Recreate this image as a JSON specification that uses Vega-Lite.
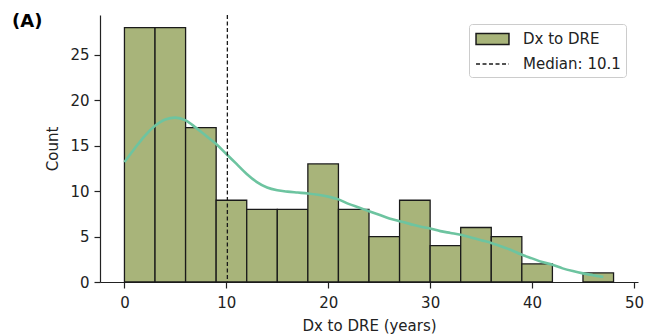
{
  "$schema": "https://vega.github.io/schema/vega-lite/v6.json",
  "width": 538,
  "height": 267,
  "autosize": {"type": "none"},
  "padding": {"left": 100, "top": 15, "right": 10, "bottom": 54},
  "title": {"text": "(A)", "anchor": "start", "frame": "group", "dx": -88, "dy": 17, "offset": 0, "fontSize": 18, "fontWeight": "bold", "font": "DejaVu Sans", "color": "black"},
  "config": {
    "view": {"stroke": null},
    "font": "DejaVu Sans",
    "axis": {
      "grid": false,
      "domainColor": "#222",
      "domainWidth": 1.2,
      "tickColor": "#222",
      "tickWidth": 1.2,
      "tickSize": 6,
      "labelFont": "DejaVu Sans",
      "labelFontSize": 15,
      "labelColor": "#222",
      "labelPadding": 5,
      "titleFont": "DejaVu Sans",
      "titleFontSize": 15,
      "titleFontWeight": "normal",
      "titleColor": "#222"
    },
    "legend": {
      "orient": "none",
      "legendX": 369,
      "legendY": 9,
      "direction": "vertical",
      "fillColor": "white",
      "strokeColor": "#cccccc",
      "cornerRadius": 3,
      "padding": 5,
      "symbolSize": 324,
      "symbolOffset": 8.5,
      "symbolStrokeWidth": 1.5,
      "labelFont": "DejaVu Sans",
      "labelFontSize": 15,
      "labelColor": "#222",
      "labelOffset": 20.5,
      "rowPadding": 6
    }
  },
  "datasets": {
    "bins": [
      {"start": 0, "end": 3, "count": 28, "series": "Dx to DRE"},
      {"start": 3, "end": 6, "count": 28, "series": "Dx to DRE"},
      {"start": 6, "end": 9, "count": 17, "series": "Dx to DRE"},
      {"start": 9, "end": 12, "count": 9, "series": "Dx to DRE"},
      {"start": 12, "end": 15, "count": 8, "series": "Dx to DRE"},
      {"start": 15, "end": 18, "count": 8, "series": "Dx to DRE"},
      {"start": 18, "end": 21, "count": 13, "series": "Dx to DRE"},
      {"start": 21, "end": 24, "count": 8, "series": "Dx to DRE"},
      {"start": 24, "end": 27, "count": 5, "series": "Dx to DRE"},
      {"start": 27, "end": 30, "count": 9, "series": "Dx to DRE"},
      {"start": 30, "end": 33, "count": 4, "series": "Dx to DRE"},
      {"start": 33, "end": 36, "count": 6, "series": "Dx to DRE"},
      {"start": 36, "end": 39, "count": 5, "series": "Dx to DRE"},
      {"start": 39, "end": 42, "count": 2, "series": "Dx to DRE"},
      {"start": 45, "end": 48, "count": 1, "series": "Dx to DRE"}
    ],
    "kde": [
      {"x": 0, "y": 13.2}, {"x": 1, "y": 14.7}, {"x": 2, "y": 16.1}, {"x": 3, "y": 17.2},
      {"x": 4, "y": 17.9}, {"x": 5, "y": 18.1}, {"x": 6, "y": 17.8}, {"x": 7, "y": 17.0},
      {"x": 8, "y": 16.1}, {"x": 9, "y": 15.2}, {"x": 10, "y": 14.1}, {"x": 11, "y": 13.0},
      {"x": 12, "y": 11.9}, {"x": 13, "y": 11.0}, {"x": 14, "y": 10.4}, {"x": 15, "y": 10.1},
      {"x": 16, "y": 9.95}, {"x": 17, "y": 9.85}, {"x": 18, "y": 9.75}, {"x": 19, "y": 9.6},
      {"x": 20, "y": 9.4}, {"x": 21, "y": 9.1}, {"x": 22, "y": 8.6}, {"x": 23, "y": 8.2},
      {"x": 24, "y": 7.8}, {"x": 25, "y": 7.4}, {"x": 26, "y": 7.0}, {"x": 27, "y": 6.7},
      {"x": 28, "y": 6.4}, {"x": 29, "y": 6.1}, {"x": 30, "y": 5.9}, {"x": 31, "y": 5.6},
      {"x": 32, "y": 5.4}, {"x": 33, "y": 5.2}, {"x": 34, "y": 4.9}, {"x": 35, "y": 4.6},
      {"x": 36, "y": 4.3}, {"x": 37, "y": 3.9}, {"x": 38, "y": 3.5}, {"x": 39, "y": 3.0},
      {"x": 40, "y": 2.6}, {"x": 41, "y": 2.2}, {"x": 42, "y": 1.9}, {"x": 43, "y": 1.5},
      {"x": 44, "y": 1.2}, {"x": 45, "y": 0.95}, {"x": 46, "y": 0.75}, {"x": 47, "y": 0.55}
    ],
    "median": [{"value": 10.1, "series": "Median: 10.1"}]
  },
  "layer": [
    {
      "data": {"name": "bins"},
      "mark": {"type": "bar", "strokeWidth": 1.3, "opacity": 1},
      "encoding": {
        "x": {"field": "start", "type": "quantitative", "scale": {"domain": [-2.4, 50.4], "nice": false, "zero": false},
              "axis": {"values": [0, 10, 20, 30, 40, 50], "title": "Dx to DRE (years)", "labelPadding": 7, "titlePadding": 8}},
        "x2": {"field": "end"},
        "y": {"field": "count", "type": "quantitative", "scale": {"domain": [0, 29.4], "nice": false},
              "axis": {"values": [0, 5, 10, 15, 20, 25], "title": "Count", "titlePadding": 9}},
        "y2": {"datum": 0},
        "fill": {
          "field": "series", "type": "nominal",
          "scale": {"domain": ["Dx to DRE", "Median: 10.1"], "range": ["#a8b47a", "transparent"]},
          "legend": {"title": null, "encode": {"symbols": {"update": {"shape": {"signal": "datum.value === 'Median: 10.1' ? 'M-1.83,0H1.83' : 'M-1.83,-0.6H1.83V0.6H-1.83Z'"}}}}}
        },
        "stroke": {
          "field": "series", "type": "nominal",
          "scale": {"domain": ["Dx to DRE", "Median: 10.1"], "range": ["#1a1a1a", "#1a1a1a"]},
          "legend": {"title": null, "encode": {"symbols": {"update": {"shape": {"signal": "datum.value === 'Median: 10.1' ? 'M-1.83,0H1.83' : 'M-1.83,-0.6H1.83V0.6H-1.83Z'"}}}}}
        },
        "strokeDash": {
          "field": "series", "type": "nominal",
          "scale": {"domain": ["Dx to DRE", "Median: 10.1"], "range": [[1, 0], [4, 2.5]]},
          "legend": {"title": null, "encode": {"symbols": {"update": {"shape": {"signal": "datum.value === 'Median: 10.1' ? 'M-1.83,0H1.83' : 'M-1.83,-0.6H1.83V0.6H-1.83Z'"}}}}}
        }
      }
    },
    {
      "data": {"name": "kde"},
      "mark": {"type": "line", "color": "#6dc4a0", "strokeWidth": 2.6, "interpolate": "monotone"},
      "encoding": {
        "x": {"field": "x", "type": "quantitative"},
        "y": {"field": "y", "type": "quantitative"}
      }
    },
    {
      "data": {"name": "median"},
      "mark": {"type": "rule", "strokeWidth": 1.3},
      "encoding": {
        "x": {"field": "value", "type": "quantitative"},
        "stroke": {"field": "series", "type": "nominal",
          "legend": {"title": null, "encode": {"symbols": {"update": {"shape": {"signal": "datum.value === 'Median: 10.1' ? 'M-1.83,0H1.83' : 'M-1.83,-0.6H1.83V0.6H-1.83Z'"}}}}}},
        "strokeDash": {"field": "series", "type": "nominal",
          "legend": {"title": null, "encode": {"symbols": {"update": {"shape": {"signal": "datum.value === 'Median: 10.1' ? 'M-1.83,0H1.83' : 'M-1.83,-0.6H1.83V0.6H-1.83Z'"}}}}}}
      }
    }
  ]
}
